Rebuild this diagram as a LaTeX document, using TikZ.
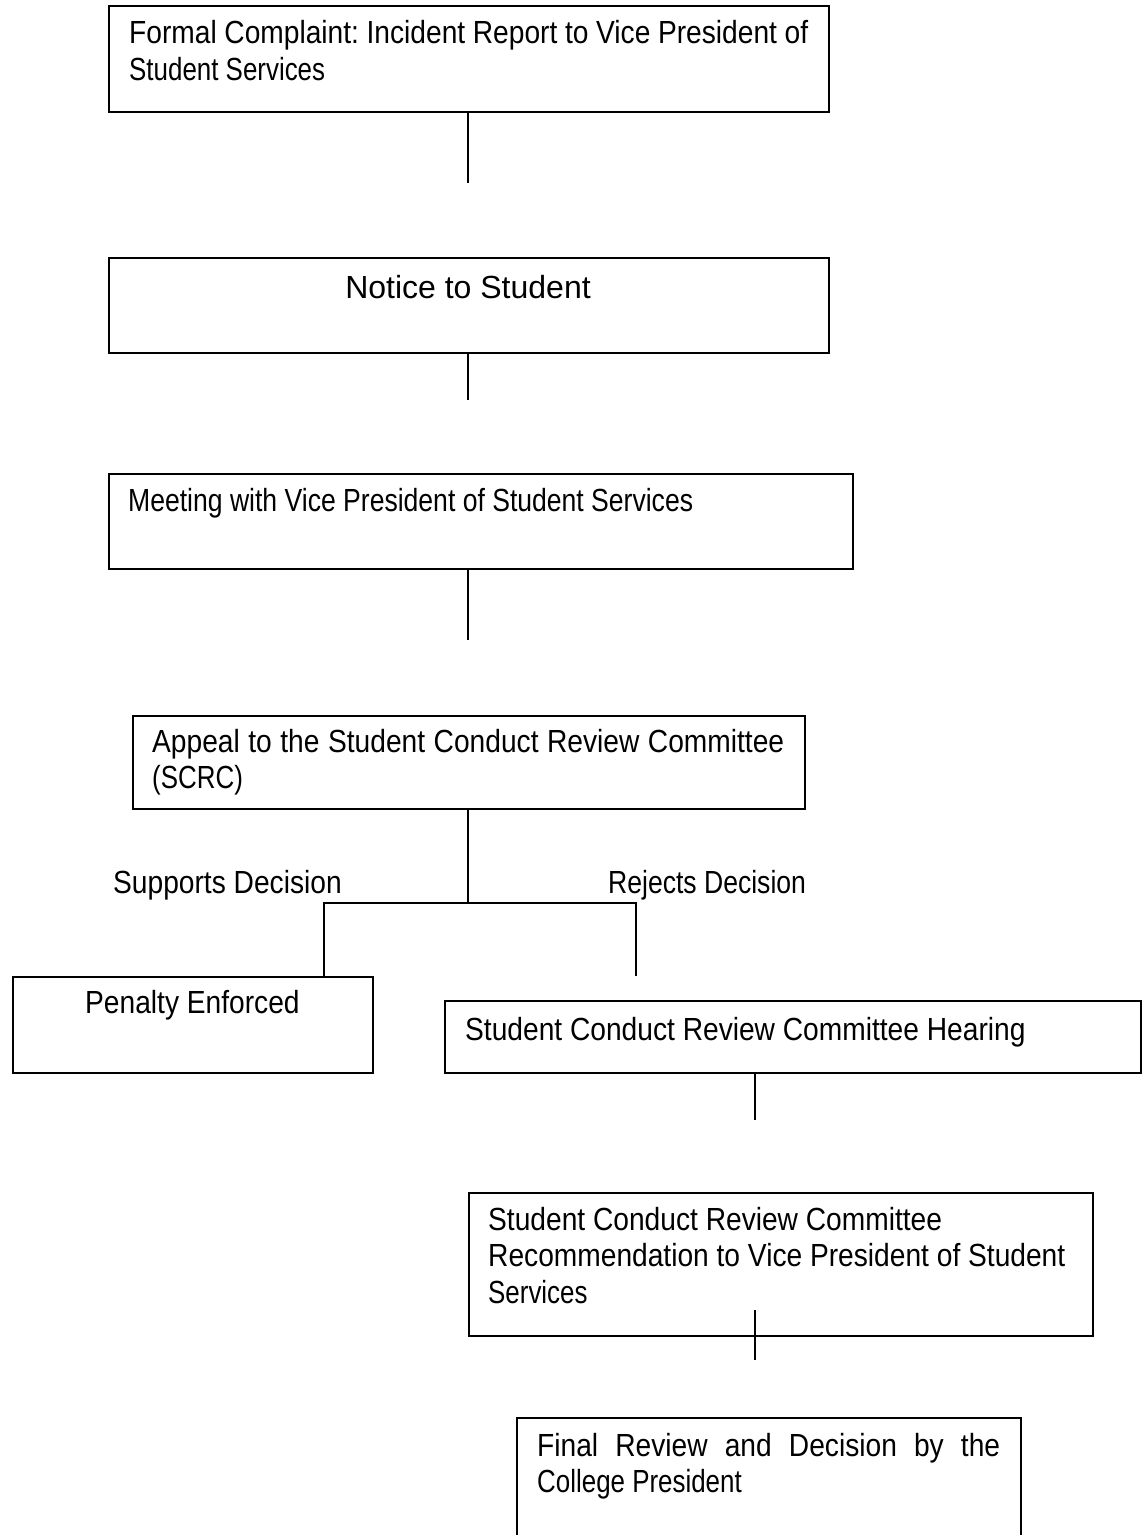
\documentclass[tikz,border=0pt]{standalone}
\usepackage{fontspec}
\setmainfont[FakeStretch=0.81]{Liberation Sans}
\newfontfamily\nB[FakeStretch=0.88]{Liberation Sans}
\newfontfamily\nM[FakeStretch=0.83]{Liberation Sans}
\newfontfamily\regfont{Liberation Sans}
\frenchspacing
\newcommand{\mylines}[1]{\vtop{\baselineskip=36.5pt #1}}
\begin{document}
\begin{tikzpicture}[x=1pt,y=-1pt,
  box/.style={draw, line width=1.6pt, inner sep=0pt, anchor=north west},
  txt/.style={anchor=base west, inner sep=0pt, font=\fontsize{32}{36.5}\selectfont},
  link/.style={line width=1.1pt}]
\useasboundingbox (0,0) rectangle (1146,1535);
\clip (0,0) rectangle (1146,1535);
% boxes
\node[box, minimum width=720pt, minimum height=106pt] (b1) at (108,5) {};
\node[box, minimum width=720pt, minimum height=95pt]  (b2) at (108,257) {};
\node[box, minimum width=744pt, minimum height=95pt]  (b3) at (108,473) {};
\node[box, minimum width=672pt, minimum height=93pt]  (b4) at (132,715) {};
\node[box, minimum width=360pt, minimum height=96pt]  (b5) at (12,976) {};
\node[box, minimum width=696pt, minimum height=72pt]  (b6) at (444,1000) {};
\node[box, minimum width=624pt, minimum height=143pt] (b7) at (468,1192) {};
\node[box, minimum width=504pt, minimum height=150pt] (b8) at (516,1417) {};
% texts
\node[txt] (t1) at (129,43.5) {\mylines{\hbox{\makebox[679pt][s]{\nB Formal Complaint: Incident Report to Vice President of}}\hbox{Student Services}}};
\node[txt, anchor=base, font=\fontsize{32}{36.5}\regfont] (t2) at (468,298.5) {Notice to Student};
\node[txt, font=\fontsize{32}{36.5}\nM] (t3) at (128,511) {Meeting with Vice President of Student Services};
\node[txt] (t4) at (152,752) {\mylines{\hbox{\makebox[632pt][s]{\nB Appeal to the Student Conduct Review Committee}}\hbox{(SCRC)}}};
\node[txt, font=\fontsize{32}{36.5}\nB] (l1) at (113,893) {Supports Decision};
\node[txt, font=\fontsize{32}{36.5}\nM] (l2) at (608,893) {Rejects Decision};
\node[txt, font=\fontsize{32}{36.5}\nB] (t5) at (85,1013) {Penalty Enforced};
\node[txt, font=\fontsize{32}{36.5}\nB] (t6) at (465,1040) {Student Conduct Review Committee Hearing};
\node[txt] (t7) at (488,1230) {\mylines{\hbox{\nB Student Conduct Review Committee}\hbox{\nB Recommendation to Vice President of Student}\hbox{Services}}};
\node[txt] (t8) at (537,1456) {\mylines{\hbox{\makebox[463pt][s]{\nB Final Review and Decision by the}}\hbox{College President}}};
% connector ends
\coordinate (e1) at (468,183);
\coordinate (e2) at (468,400);
\coordinate (e3) at (468,640);
\coordinate (j)  at (468,903);
\coordinate (jl) at (324,903);
\coordinate (jr) at (636,903);
\coordinate (er) at (636,976);
\coordinate (e5) at (755,1120);
\coordinate (s6) at (755,1310);
\coordinate (e6) at (755,1360);
% connectors
\draw[link] (b1.south -| e1) -- (e1);
\draw[link] (b2.south -| e2) -- (e2);
\draw[link] (b3.south -| e3) -- (e3);
\draw[link] (b4.south -| j) -- (j);
\draw[link] (b5.north -| jl) -- (jl) -- (jr) -- (er);
\draw[link] (b6.south -| e5) -- (e5);
\draw[link] (s6) -- (e6);
\end{tikzpicture}
\end{document}
